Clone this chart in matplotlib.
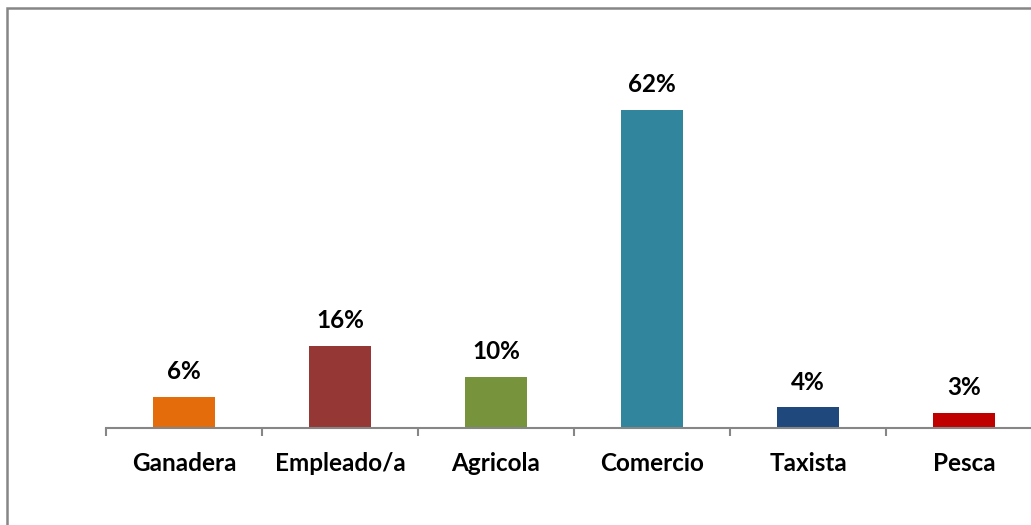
import matplotlib.pyplot as plt
from matplotlib.patches import Rectangle

categories = ["Ganadera", "Empleado/a", "Agricola", "Comercio", "Taxista", "Pesca"]
values = [6, 16, 10, 62, 4, 3]
colors = ["#E46C0A", "#953735", "#77933C", "#31859C", "#1F497D", "#C00000"]

plt.rcParams['font.family'] = ['Lato', 'DejaVu Sans']

fig = plt.figure(figsize=(10.31, 5.25), dpi=100)
ax = fig.add_axes([106/1031, 1 - 428/525, 936/1031, 359/525])

x = list(range(len(categories)))
bars = ax.bar(x, values, width=0.4, color=colors)

for b, v in zip(bars, values):
    ax.annotate(f"{v}%", (b.get_x() + b.get_width()/2, v), xytext=(0, 10),
                textcoords="offset points", ha="center", va="bottom",
                fontsize=17.5, fontweight="bold", color="black")

ax.set_xlim(-0.5, len(categories) - 0.5)
ax.set_ylim(0, 70)
ax.set_yticks([])
for s in ["top", "right", "left"]:
    ax.spines[s].set_visible(False)
ax.spines["bottom"].set_color("#868686")
ax.spines["bottom"].set_linewidth(1.5)

ax.set_xticks(x)
ax.set_xticklabels(categories, fontsize=17.5, fontweight="bold")
ax.tick_params(axis="x", length=0, pad=17.5)
ax.set_xticks([i - 0.5 for i in range(len(categories) + 1)], minor=True)
ax.tick_params(axis="x", which="minor", length=6, width=1.5, color="#868686")

# outer chart frame
fig.patches.append(Rectangle((7/1031, -0.1), 1.2, 1 - 8/525 + 0.1, transform=fig.transFigure,
                             fill=False, edgecolor="#868686", linewidth=1.8, clip_on=False))

fig.savefig("out.png", dpi=100)
